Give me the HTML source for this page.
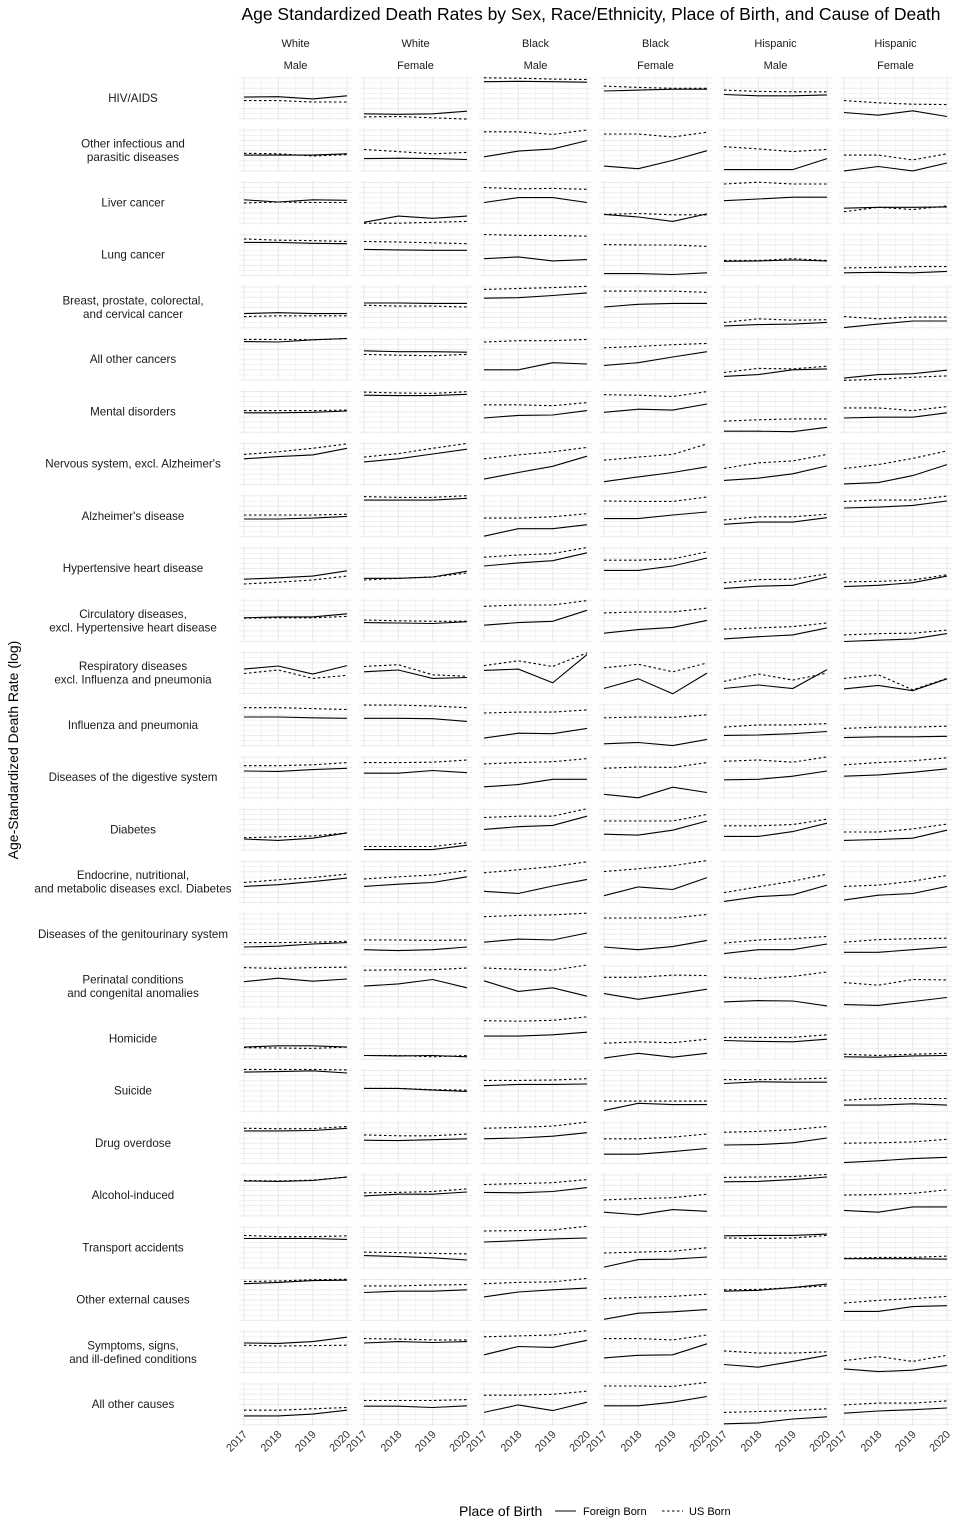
<!DOCTYPE html>
<html><head><meta charset="utf-8"><style>
html,body{margin:0;padding:0;background:#fff;}
svg{display:block;font-family:"Liberation Sans",sans-serif;}
</style></head><body>
<svg id="chart" width="960" height="1536" viewBox="0 0 960 1536" xmlns="http://www.w3.org/2000/svg">
<text x="591" y="20" font-size="17.5" text-anchor="middle" fill="#000">Age Standardized Death Rates by Sex, Race/Ethnicity, Place of Birth, and Cause of Death</text>
<text transform="translate(18,750) rotate(-90)" font-size="14" text-anchor="middle" fill="#000">Age-Standardized Death Rate (log)</text>
<g id="panels"></g>
<g>
<text x="459" y="1516" font-size="14" fill="#000">Place of Birth</text>
<line x1="555" y1="1511" x2="576" y2="1511" stroke="#000" stroke-width="1.1"/>
<text x="583" y="1515" font-size="11" fill="#000">Foreign Born</text>
<line x1="662" y1="1511" x2="683" y2="1511" stroke="#000" stroke-width="1.1" stroke-dasharray="2.5,2.5"/>
<text x="689" y="1515" font-size="11" fill="#000">US Born</text>
</g>
</svg>
<script>
const years = [2017, 2018, 2019, 2020];
const races = ["White", "White", "Black", "Black", "Hispanic", "Hispanic"];
const sexes = ["Male", "Female", "Male", "Female", "Male", "Female"];
const causes = [
 ["HIV/AIDS"],
 ["Other infectious and","parasitic diseases"],
 ["Liver cancer"],
 ["Lung cancer"],
 ["Breast, prostate, colorectal,","and cervical cancer"],
 ["All other cancers"],
 ["Mental disorders"],
 ["Nervous system, excl. Alzheimer's"],
 ["Alzheimer's disease"],
 ["Hypertensive heart disease"],
 ["Circulatory diseases,","excl. Hypertensive heart disease"],
 ["Respiratory diseases","excl. Influenza and pneumonia"],
 ["Influenza and pneumonia"],
 ["Diseases of the digestive system"],
 ["Diabetes"],
 ["Endocrine, nutritional,","and metabolic diseases excl. Diabetes"],
 ["Diseases of the genitourinary system"],
 ["Perinatal conditions","and congenital anomalies"],
 ["Homicide"],
 ["Suicide"],
 ["Drug overdose"],
 ["Alcohol-induced"],
 ["Transport accidents"],
 ["Other external causes"],
 ["Symptoms, signs,","and ill-defined conditions"],
 ["All other causes"]
];
// relative log death rate within each cause row (0 = row min, 1 = row max)
const foreignBorn = [
 [[.52,.53,.48,.55],[.14,.13,.14,.20],[.87,.88,.87,.86],[.66,.68,.70,.70],[.58,.55,.55,.57],[.17,.11,.21,.08]],
 [[.39,.39,.39,.42],[.31,.32,.31,.29],[.35,.48,.53,.72],[.14,.08,.27,.49],[.06,.06,.06,.31],[.03,.13,.03,.21]],
 [[.56,.51,.56,.55],[.05,.19,.14,.19],[.50,.61,.61,.50],[.23,.17,.07,.24],[.54,.58,.62,.62],[.37,.39,.39,.40]],
 [[.78,.78,.76,.75],[.62,.61,.60,.60],[.41,.45,.36,.39],[.07,.07,.05,.09],[.35,.36,.38,.36],[.09,.10,.09,.12]],
 [[.35,.37,.35,.35],[.59,.59,.58,.58],[.70,.71,.76,.82],[.50,.56,.58,.58],[.07,.10,.11,.15],[.03,.11,.18,.18]],
 [[.90,.89,.94,.97],[.69,.67,.67,.66],[.26,.26,.42,.39],[.36,.42,.55,.67],[.11,.15,.26,.28],[.07,.15,.17,.25]],
 [[.47,.47,.48,.51],[.87,.86,.86,.89],[.35,.41,.42,.52],[.48,.55,.53,.67],[.05,.05,.04,.14],[.35,.37,.37,.47]],
 [[.61,.66,.70,.85],[.54,.61,.72,.83],[.15,.30,.44,.67],[.09,.20,.30,.43],[.12,.17,.27,.45],[.04,.07,.23,.48]],
 [[.43,.43,.45,.49],[.86,.86,.86,.90],[.04,.21,.21,.30],[.44,.44,.52,.59],[.31,.36,.36,.46],[.68,.70,.74,.84]],
 [[.25,.28,.32,.44],[.27,.27,.30,.43],[.55,.62,.67,.85],[.45,.45,.55,.73],[.04,.09,.11,.30],[.08,.11,.17,.32]],
 [[.56,.58,.58,.65],[.45,.44,.43,.47],[.39,.45,.48,.73],[.21,.29,.34,.50],[.08,.13,.17,.33],[.02,.05,.08,.20]],
 [[.58,.65,.47,.66],[.52,.56,.37,.39],[.55,.58,.27,.91],[.14,.36,.02,.49],[.14,.22,.14,.57],[.13,.21,.09,.36]],
 [[.68,.68,.66,.65],[.65,.65,.64,.58],[.20,.31,.30,.42],[.07,.10,.03,.17],[.26,.27,.30,.35],[.21,.23,.23,.24]],
 [[.64,.63,.67,.70],[.59,.59,.65,.60],[.28,.33,.45,.45],[.11,.03,.27,.15],[.44,.45,.52,.64],[.52,.55,.61,.69]],
 [[.28,.25,.30,.42],[.04,.04,.04,.14],[.50,.56,.59,.80],[.39,.37,.48,.69],[.34,.34,.45,.64],[.25,.27,.30,.48]],
 [[.39,.43,.50,.58],[.39,.44,.48,.61],[.28,.23,.40,.55],[.18,.38,.32,.59],[.05,.16,.20,.42],[.08,.19,.23,.39]],
 [[.20,.22,.27,.30],[.14,.12,.14,.20],[.31,.38,.36,.52],[.20,.14,.21,.35],[.05,.14,.14,.27],[.08,.08,.14,.20]],
 [[.60,.68,.61,.66],[.50,.55,.65,.46],[.62,.38,.46,.27],[.33,.20,.31,.43],[.14,.17,.16,.05],[.08,.06,.15,.24]],
 [[.30,.33,.33,.30],[.11,.10,.11,.08],[.55,.55,.58,.64],[.05,.16,.07,.16],[.45,.43,.42,.48],[.08,.07,.10,.11]],
 [[.92,.93,.95,.90],[.55,.55,.51,.48],[.61,.64,.64,.65],[.05,.21,.18,.18],[.66,.70,.69,.69],[.17,.17,.20,.17]],
 [[.77,.77,.78,.83],[.56,.55,.57,.59],[.59,.61,.65,.73],[.24,.24,.30,.37],[.45,.46,.50,.61],[.05,.09,.14,.17]],
 [[.82,.81,.83,.91],[.48,.52,.52,.57],[.56,.55,.58,.67],[.11,.05,.17,.13],[.80,.81,.85,.91],[.15,.11,.23,.23]],
 [[.70,.70,.70,.68],[.31,.29,.26,.21],[.62,.65,.69,.71],[.05,.22,.23,.28],[.76,.77,.77,.80],[.24,.24,.24,.23]],
 [[.86,.89,.93,.94],[.66,.69,.69,.72],[.56,.67,.72,.76],[.05,.19,.22,.27],[.69,.71,.77,.85],[.23,.23,.34,.36]],
 [[.70,.69,.73,.83],[.70,.73,.71,.73],[.43,.62,.60,.76],[.36,.42,.43,.68],[.21,.15,.28,.42],[.11,.05,.08,.19]],
 [[.23,.23,.27,.36],[.45,.45,.42,.46],[.31,.48,.35,.54],[.46,.46,.54,.67],[.05,.07,.16,.21],[.29,.34,.37,.41]]
];
const usBorn = [
 [[.44,.44,.41,.41],[.07,.08,.05,.02],[.96,.95,.93,.92],[.77,.74,.72,.72],[.68,.65,.64,.64],[.44,.39,.36,.35]],
 [[.43,.42,.37,.40],[.52,.47,.42,.45],[.92,.92,.86,.96],[.87,.87,.80,.91],[.58,.53,.47,.52],[.39,.39,.28,.42]],
 [[.49,.51,.50,.50],[.03,.03,.05,.07],[.84,.81,.82,.80],[.23,.25,.22,.22],[.92,.96,.92,.92],[.29,.39,.34,.42]],
 [[.86,.83,.82,.80],[.80,.79,.77,.75],[.96,.94,.94,.92],[.73,.72,.72,.69],[.37,.37,.41,.37],[.20,.21,.23,.23]],
 [[.28,.30,.30,.30],[.54,.52,.52,.50],[.90,.92,.94,.97],[.86,.86,.86,.83],[.15,.23,.20,.21],[.28,.23,.27,.27]],
 [[.95,.95,.94,.97],[.61,.59,.58,.61],[.89,.92,.92,.95],[.76,.79,.83,.86],[.20,.29,.28,.34],[.02,.04,.09,.12]],
 [[.52,.52,.52,.53],[.94,.92,.91,.95],[.65,.65,.63,.70],[.88,.87,.84,.95],[.28,.31,.33,.33],[.58,.58,.52,.61]],
 [[.71,.77,.85,.95],[.65,.73,.85,.96],[.61,.70,.77,.87],[.58,.65,.71,.95],[.39,.52,.56,.71],[.39,.48,.62,.79]],
 [[.52,.52,.52,.54],[.94,.92,.92,.96],[.45,.45,.48,.55],[.84,.83,.83,.93],[.41,.48,.48,.54],[.83,.86,.86,.95]],
 [[.14,.18,.23,.32],[.23,.27,.30,.39],[.75,.80,.83,.97],[.68,.68,.71,.87],[.17,.24,.25,.37],[.19,.20,.23,.35]],
 [[.55,.56,.56,.59],[.51,.49,.48,.48],[.82,.85,.85,.95],[.67,.69,.69,.78],[.30,.33,.36,.44],[.17,.20,.21,.28]],
 [[.48,.56,.37,.44],[.64,.68,.45,.42],[.66,.77,.64,.95],[.61,.69,.52,.72],[.30,.47,.33,.49],[.37,.45,.11,.37]],
 [[.89,.89,.87,.85],[.95,.95,.93,.89],[.77,.79,.79,.84],[.66,.68,.67,.73],[.45,.50,.50,.53],[.42,.45,.45,.47]],
 [[.76,.76,.78,.83],[.83,.83,.84,.89],[.80,.83,.85,.92],[.70,.73,.72,.83],[.86,.89,.84,.96],[.78,.83,.87,.94]],
 [[.31,.33,.35,.42],[.11,.11,.11,.20],[.77,.80,.80,.97],[.69,.69,.69,.84],[.58,.58,.61,.73],[.44,.44,.51,.62]],
 [[.48,.54,.59,.67],[.56,.61,.65,.75],[.70,.77,.84,.95],[.73,.79,.86,.98],[.25,.38,.51,.67],[.39,.42,.51,.64]],
 [[.30,.30,.31,.33],[.36,.36,.35,.36],[.89,.92,.93,.97],[.86,.86,.86,.94],[.29,.36,.39,.44],[.31,.37,.39,.40]],
 [[.92,.90,.92,.93],[.86,.87,.87,.91],[.91,.88,.86,.98],[.70,.70,.75,.74],[.70,.67,.72,.82],[.58,.52,.65,.64]],
 [[.29,.28,.27,.30],[.11,.11,.08,.11],[.90,.89,.91,.99],[.39,.42,.40,.48],[.52,.52,.52,.58],[.14,.11,.14,.16]],
 [[.98,.98,.98,.97],[.55,.55,.52,.51],[.73,.73,.74,.77],[.26,.26,.26,.26],[.75,.75,.76,.78],[.28,.32,.32,.32]],
 [[.83,.82,.82,.87],[.68,.66,.66,.70],[.83,.85,.88,.97],[.59,.59,.63,.70],[.74,.76,.80,.87],[.49,.50,.52,.58]],
 [[.83,.82,.84,.91],[.55,.56,.58,.64],[.74,.76,.78,.85],[.39,.42,.44,.52],[.90,.91,.92,.97],[.50,.51,.54,.62]],
 [[.77,.74,.74,.76],[.39,.38,.36,.35],[.87,.88,.89,.98],[.37,.39,.41,.49],[.71,.70,.71,.77],[.25,.27,.27,.30]],
 [[.91,.92,.95,.96],[.81,.81,.83,.84],[.86,.89,.90,.98],[.52,.55,.57,.62],[.72,.73,.77,.81],[.42,.48,.52,.57]],
 [[.65,.63,.64,.65],[.80,.79,.77,.77],[.84,.86,.88,.98],[.80,.80,.77,.88],[.52,.47,.47,.50],[.30,.39,.28,.42]],
 [[.36,.36,.39,.42],[.58,.58,.58,.60],[.70,.70,.72,.79],[.91,.91,.90,.99],[.31,.33,.35,.39],[.48,.52,.52,.57]]
];

const NS = "http://www.w3.org/2000/svg";
const root = document.getElementById("panels");
const ROW0 = 76, ROWP = 52.24, PH = 44, COLP = 120, X0 = 244, XW = 103;
function xScale(c, yr){ return X0 + c*COLP + (yr - years[0]) / (years[3] - years[0]) * XW; }
function yScale(r, v){ return ROW0 + r*ROWP + PH*(1 - v); }
function mk(tag, attrs, parent){
  const e = document.createElementNS(NS, tag);
  for (const k in attrs) e.setAttribute(k, attrs[k]);
  parent.appendChild(e);
  return e;
}

for (let c = 0; c < 6; c++) {
  const cx = X0 + c*COLP + XW/2;
  const t1 = mk("text", {x: cx, y: 47, "font-size": 11, "text-anchor": "middle", fill: "#1a1a1a"}, root);
  
  
  t1.textContent = races[c];
  const t2 = mk("text", {x: cx, y: 69, "font-size": 11, "text-anchor": "middle", fill: "#1a1a1a"}, root);
  
  
  t2.textContent = sexes[c];
}

for (let r = 0; r < causes.length; r++) {
  const top = ROW0 + r*ROWP;
  const lines = causes[r];
  const cy = top + PH/2 + 4 - (lines.length - 1) * 6.5;
  lines.forEach((s, i) => {
    const t = mk("text", {x: 133, y: cy + i*13.5, "font-size": 11.6, "text-anchor": "middle", fill: "#1a1a1a"}, root);
    
    
    t.textContent = s;
  });
  for (let c = 0; c < 6; c++) {
    const g = mk("g", {}, root);
    
    
    const left = X0 - 5 + c*COLP, w = XW + 10;
    for (let i = 0; i < 9; i++) {
      const yy = top + 2 + i*5.1;
      mk("line", {x1: left, x2: left + w, y1: yy, y2: yy, stroke: "#ebebeb", "stroke-width": i % 2 ? 0.6 : 1}, g);
    }
    for (let k = 0; k < 7; k++) {
      const xx = xScale(c, years[0] + k*0.5);
      mk("line", {x1: xx, x2: xx, y1: top, y2: top + PH, stroke: "#ebebeb", "stroke-width": k % 2 ? 0.6 : 1.1}, g);
    }
    const us = usBorn[r][c].map((v, i) => xScale(c, years[i]).toFixed(1) + "," + yScale(r, v).toFixed(1)).join(" ");
    const pl2 = mk("polyline", {points: us, fill: "none", stroke: "#000", "stroke-width": 1.1, "stroke-dasharray": "2.5,2.5"}, g);
    
    
    const fb = foreignBorn[r][c].map((v, i) => xScale(c, years[i]).toFixed(1) + "," + yScale(r, v).toFixed(1)).join(" ");
    const pl = mk("polyline", {points: fb, fill: "none", stroke: "#000", "stroke-width": 1.1}, g);
    
    
  }
}
const lastBottom = ROW0 + 25*ROWP + PH;
for (let c = 0; c < 6; c++) {
  years.forEach(yr => {
    const xx = xScale(c, yr) + 4, yy = lastBottom + 9;
    const t = mk("text", {x: xx, y: yy, "font-size": 11, "text-anchor": "end", fill: "#333", transform: `rotate(-45 ${xx} ${yy})`}, root);
    
    
    t.textContent = yr;
  });
}
</script>
</body></html>
